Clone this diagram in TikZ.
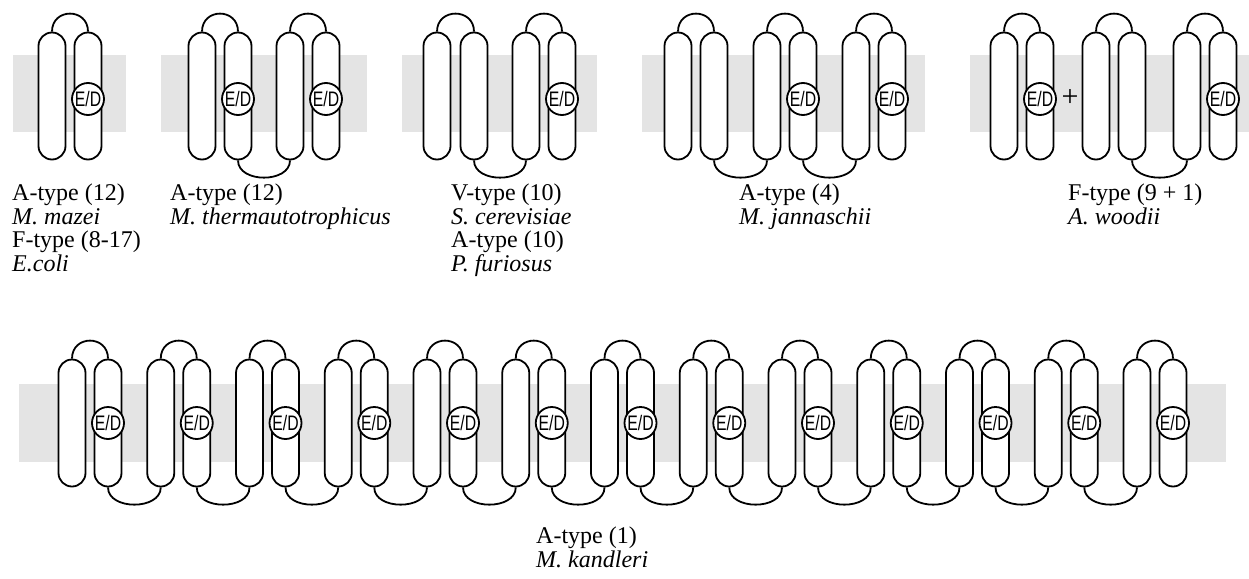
\documentclass[tikz,border=0pt]{standalone}
\usepackage{fontspec}
\setmainfont{Liberation Serif}
\newfontfamily\edfont[FakeStretch=0.75]{Liberation Sans}
\usepackage{tikz}
\definecolor{membgray}{HTML}{E4E4E4}
\tikzset{
  membrane/.style={fill=membgray},
  helix/.style={draw,fill=white,line width=1.8pt,rounded corners=13.5pt,minimum width=27pt,minimum height=127pt,inner sep=0pt},
  edsite/.style={circle,draw,fill=white,line width=1.8pt,minimum size=32pt,inner sep=0pt,font=\edfont\fontsize{21}{21}\selectfont},
  loopline/.style={draw,line width=1.8pt},
  lbl/.style={anchor=north west,align=left,inner sep=0pt,font=\fontsize{24}{23.5}\selectfont},
}

\begin{document}
\begin{tikzpicture}[x=1pt,y=-1pt]
  \useasboundingbox (0,0) rectangle (1249,578);
  % membranes
  \foreach \l/\r in {13/126,161/367,402/597,642/925,970/1249}
     \fill[membrane] (\l,55) rectangle (\r,132);
  \fill[membrane] (19,384) rectangle (1226,462);
  % top row helices
  \foreach \x/\n in {52/a1,88/a2, 202/b1,238/b2,290/b3,326/b4, 437/c1,474/c2,526/c3,562/c4,
                     678/d1,714/d2,767/d3,803/d4,856/d5,892/d6, 1004/e1,1040/e2,1096/e3,1132/e4,1187/e5,1223/e6}
     \node[helix] (\n) at (\x,96) {};
  \foreach \p/\q in {a1/a2,b1/b2,b3/b4,c1/c2,c3/c4,d1/d2,d3/d4,d5/d6,e1/e2,e3/e4,e5/e6}
     \draw[loopline] (\p.north) .. controls +(0,-24) and +(0,-24) .. (\q.north);
  \foreach \p/\q in {b2/b3,c2/c3,d2/d3,d4/d5,e4/e5}
     \draw[loopline] (\p.south) .. controls +(0,23) and +(0,23) .. (\q.south);
  \foreach \n in {a2,b2,b4,c4,d4,d6,e2,e6}
     \node[edsite] (ed\n) at ([yshift=-3pt]\n.center) {E/D};
  \node[font=\fontsize{30}{30}\selectfont] (plus) at (1070,98) {+};
  % bottom row
  \foreach \i in {0,...,12} {
     \pgfmathsetmacro\xl{72+88.75*\i}
     \node[helix] (kl\i) at (\xl,423) {};
     \node[helix] (kr\i) at (\xl+36,423) {};
     \draw[loopline] (kl\i.north) .. controls +(0,-24) and +(0,-24) .. (kr\i.north);
     \node[edsite] (edk\i) at (kr\i.center) {E/D};
  }
  \foreach \i [evaluate=\i as \j using int(\i+1)] in {0,...,11}
     \draw[loopline] (kr\i.south) .. controls +(0,23) and +(0,23) .. (kl\j.south);
  % labels
  \node[lbl] (lab1) at (12,184) {A-type (12)\\\textit{M. mazei}\\F-type (8-17)\\\textit{E.coli}};
  \node[lbl] (lab2) at (170,184) {A-type (12)\\\textit{M. thermautotrophicus}};
  \node[lbl] (lab3) at (451,184) {V-type (10)\\\textit{S. cerevisiae}\\A-type (10)\\\textit{P. furiosus}};
  \node[lbl] (lab4) at (739,184) {A-type (4)\\\textit{M. jannaschii}};
  \node[lbl] (lab5) at (1068,184) {F-type (9 + 1)\\\textit{A. woodii}};
  \node[lbl] (lab6) at (536,527) {A-type (1)\\\textit{M. kandleri}};
\end{tikzpicture}
\end{document}
